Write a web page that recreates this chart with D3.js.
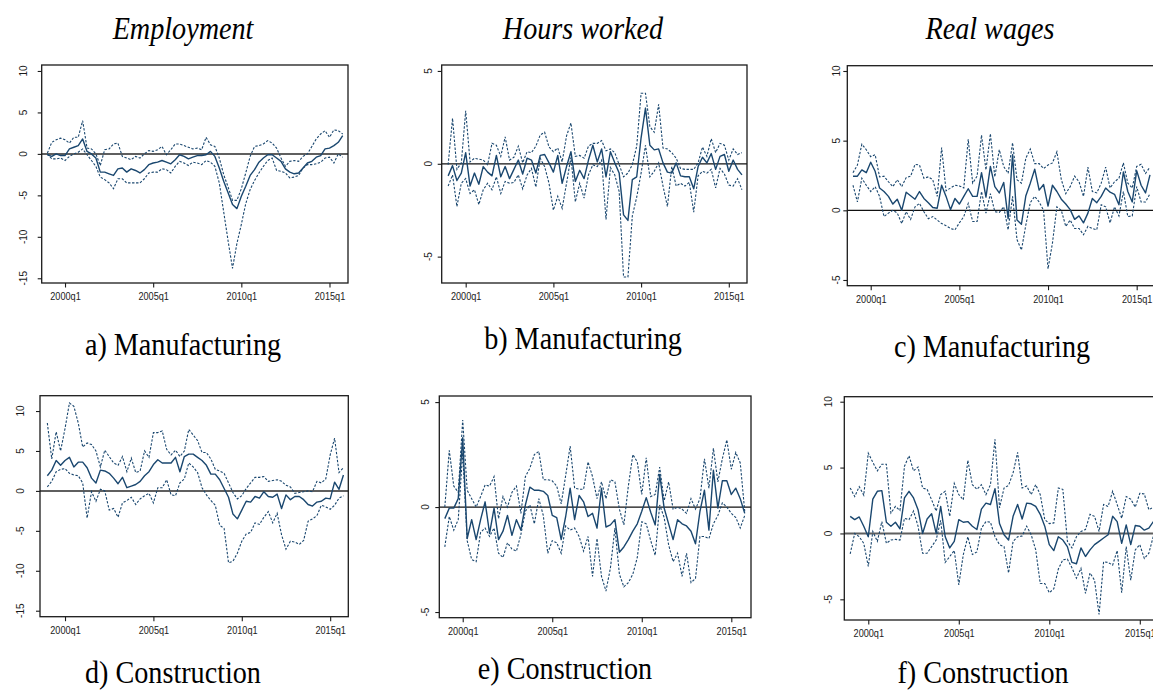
<!DOCTYPE html>
<html>
<head>
<meta charset="utf-8">
<script src="https://cdn.jsdelivr.net/npm/d3@7"></script>
<style>
  body { margin: 0; background: #fff; }
  svg { display: block; }
</style>
</head>
<body>
<svg id="fig" width="1153" height="693"></svg>
<script>
// ---- time axis -------------------------------------------------------
const startYear = 1999;
const nQuarters = 68;                       // 1999q1 .. 2015q4
const xTickLabels = ["2000q1", "2005q1", "2010q1", "2015q1"];

// ---- text ------------------------------------------------------------
const columnTitles = ["Employment", "Hours worked", "Real wages"];
const panelCaptions = ["a) Manufacturing", "b) Manufacturing", "c) Manufacturing",
                       "d) Construction", "e) Construction", "f) Construction"];

// ---- y tick values per panel ----------------------------------------
const yTicksA = [10, 5, 0, -5, -10, -15];
const yTicksB = [5, 0, -5];
const yTicksC = [10, 5, 0, -5];
const yTicksD = [10, 5, 0, -5, -10, -15];
const yTicksE = [5, 0, -5];
const yTicksF = [10, 5, 0, -5];

// ---- series: point estimate and lower / upper bands (percent) --------
// a) Employment, manufacturing
const mfgEmp = [-0.1,-0.3,0.0,-0.2,-0.2,0.6,0.8,1.0,1.8,0.3,
  0.0,-0.5,-2.2,-2.2,-2.4,-2.6,-1.8,-1.7,-2.2,-1.8,
  -2.0,-2.3,-1.9,-1.3,-1.1,-1.0,-0.8,-1.0,-1.2,-0.7,
  -0.1,-0.3,-0.6,-0.4,-0.2,-0.2,-0.1,0.3,-0.3,-1.7,
  -3.3,-4.7,-6.1,-6.6,-5.1,-3.9,-2.6,-1.9,-1.0,-0.5,
  -0.1,-0.1,-0.5,-0.9,-1.8,-2.2,-2.4,-2.3,-1.7,-1.1,
  -0.9,-0.4,-0.2,0.6,0.7,1.0,1.4,2.2];
const mfgEmpHi = [0.1,1.4,1.7,1.9,1.7,1.3,2.0,2.0,4.0,0.7,
  0.6,0.0,-1.4,0.5,0.6,1.2,1.3,-0.3,-0.5,-0.7,
  -0.3,-0.5,0.0,0.4,0.3,0.5,0.9,-0.1,0.5,1.2,
  1.2,1.0,0.8,0.6,0.7,0.5,2.0,1.1,0.9,-0.5,
  -2.5,-4.0,-5.6,-5.6,-4.2,-2.3,-0.3,0.9,1.0,1.2,
  1.6,1.3,0.7,-0.5,-1.5,-0.9,-0.8,-0.9,-0.3,0.0,
  0.9,1.8,2.4,2.8,2.0,2.9,2.8,2.4];
const mfgEmpLo = [0.0,-0.6,-0.6,-0.5,-0.8,-0.3,0.0,0.2,0.6,-0.1,
  -0.8,-1.5,-2.8,-3.1,-3.5,-4.2,-3.0,-3.0,-3.5,-3.5,
  -3.5,-3.5,-3.0,-2.3,-2.2,-2.2,-1.8,-1.9,-2.3,-1.5,
  -0.9,-1.1,-1.4,-1.0,-1.1,-1.3,-0.8,-1.0,-1.5,-3.5,
  -7.0,-10.5,-13.8,-10.8,-8.5,-6.0,-4.3,-3.2,-2.3,-1.5,
  -0.8,-0.5,-2.0,-2.1,-2.3,-2.9,-2.8,-2.6,-1.7,-1.3,
  -1.3,-1.2,-1.0,-0.5,-0.4,-1.1,0.0,-0.4];

// b) Hours worked, manufacturing
const mfgHrs = [-0.65,-0.1,-0.9,-0.5,0.6,-1.2,-0.5,-1.1,-0.15,-0.45,
  -0.65,0.45,-0.7,-0.15,-0.8,-0.3,0.2,-0.55,0.3,0.2,
  -0.5,0.45,0.5,0.05,-0.45,0.45,-1.05,-0.15,0.65,-0.95,
  -0.35,-0.8,0.2,1.0,0.1,0.8,-0.7,0.65,0.05,-0.5,
  -2.75,-3.05,-0.85,-0.7,1.4,3.0,1.0,0.75,0.8,0.05,
  -0.45,-0.5,0.05,-0.65,-0.7,-0.7,-1.35,-0.15,0.35,0.05,
  0.55,-0.3,0.4,0.5,-0.4,0.2,-0.3,-0.6];
const mfgHrsHi = [-0.05,2.45,-0.3,0.05,2.85,0.1,0.3,0.25,0.2,-0.05,
  1.1,1.0,0.4,1.45,0.2,0.35,0.95,0.05,0.65,0.6,
  0.95,1.55,1.7,0.9,0.65,0.85,0.1,1.5,2.2,0.4,
  0.45,0.3,0.95,1.1,1.1,1.25,0.7,0.8,0.6,-0.05,
  -0.7,-0.5,-0.05,0.95,3.8,3.8,2.0,1.7,3.2,0.85,
  0.8,0.6,0.3,-0.25,-0.3,-0.3,-0.3,0.05,0.9,0.4,
  1.35,0.6,1.1,1.0,0.2,0.8,0.5,0.6];
const mfgHrsLo = [-1.2,-0.6,-2.3,-1.05,-0.8,-1.6,-1.4,-2.2,-1.4,-1.05,
  -1.4,-0.7,-1.6,-0.95,-1.05,-1.0,-0.6,-1.35,-0.6,-0.25,
  -1.25,0.3,-0.15,-1.05,-2.5,-1.75,-2.4,-1.05,0.35,-2.05,
  -1.05,-1.85,-0.6,-0.05,-0.15,0.2,-3.0,-0.2,-0.6,-1.5,
  -6.1,-6.1,-2.8,-1.8,-0.5,1.0,-0.7,-0.4,0.05,-1.2,
  -2.3,-0.15,-1.2,-1.05,-1.2,-1.0,-2.6,-0.65,-0.4,-0.5,
  -0.3,-1.3,-0.25,-0.55,-1.15,-1.2,-0.8,-1.4];

// c) Real wages, manufacturing
const mfgWage = [2.45,2.45,2.9,2.7,3.45,2.8,1.6,1.35,1.0,0.45,
  0.8,0.0,1.3,1.05,0.8,1.35,0.85,0.55,0.2,0.15,
  1.8,1.0,0.05,0.85,0.45,1.0,1.55,1.0,1.0,2.7,
  0.95,3.15,1.7,1.25,2.0,-0.6,4.0,-0.7,-1.0,1.05,
  1.95,2.95,1.45,1.85,0.3,1.8,1.35,0.8,0.45,0.05,
  -0.65,-0.4,-0.9,-0.2,0.85,0.55,1.0,1.6,1.3,1.15,
  0.4,2.75,1.35,0.6,2.85,1.8,1.25,2.55];
const mfgWageHi = [2.7,3.25,4.75,4.35,3.85,4.0,2.4,2.45,2.05,1.7,
  2.2,1.7,2.35,2.45,3.3,3.25,2.3,2.4,2.2,1.0,
  4.5,1.4,1.6,1.8,1.75,1.6,5.1,1.95,2.45,5.4,
  2.9,5.5,2.4,4.35,3.15,2.65,4.85,2.2,1.95,3.75,
  4.4,3.35,3.35,3.0,3.25,3.4,4.2,2.2,1.2,1.7,
  2.45,2.05,1.0,3.1,1.35,1.25,1.95,3.1,1.6,2.05,
  2.3,3.4,1.95,1.6,3.15,3.3,2.65,3.1];
const mfgWageLo = [1.8,0.6,2.3,1.8,1.35,1.7,1.0,-0.45,-0.2,0.0,
  -0.2,-0.95,-0.1,-0.65,0.25,0.5,-0.1,-0.6,-0.45,-0.7,
  -0.95,-1.1,-1.3,-1.4,-0.9,-0.45,0.5,-0.8,-0.8,1.35,
  -0.2,1.2,-0.1,-0.15,0.25,-1.4,1.0,-2.1,-2.85,-1.05,
  0.55,1.0,0.6,0.0,-4.2,-2.35,0.25,0.0,-1.15,-0.7,
  -1.3,-1.3,-1.75,-1.15,-1.3,-1.4,0.4,0.25,-0.9,0.25,
  -0.4,1.35,-0.45,-0.4,1.7,0.6,0.6,1.2];

// d) Employment, construction
const conEmp = [1.9,2.6,3.8,3.2,3.8,4.2,3.0,3.6,3.6,2.9,
  1.6,1.0,2.6,2.5,2.2,1.6,0.9,1.7,0.4,0.6,
  0.8,1.2,1.9,2.4,3.3,3.9,3.5,3.5,3.5,4.2,
  2.4,4.3,4.6,4.6,4.2,3.8,3.2,2.1,2.1,1.4,
  0.3,-0.8,-2.9,-3.5,-2.4,-1.3,-1.4,-0.7,-0.9,-0.1,
  -0.7,-0.8,-0.4,-2.2,-0.5,-1.1,-0.7,-0.7,-1.1,-1.7,
  -1.9,-1.4,-1.3,-0.9,-1.0,1.1,0.2,2.0];
const conEmpHi = [8.5,4.0,7.4,5.0,7.8,11.0,10.6,8.5,5.5,6.0,
  5.8,5.0,3.0,5.1,4.3,3.5,3.2,4.3,2.4,4.1,
  2.3,2.5,5.0,4.2,7.3,7.3,7.5,5.2,4.5,5.1,
  4.3,5.0,7.7,7.0,6.3,4.8,4.8,4.0,2.7,2.5,
  2.2,1.0,-0.2,-1.0,-0.6,0.3,1.0,1.7,1.7,1.8,
  1.2,1.3,1.4,1.2,0.7,0.5,-0.3,-0.2,-0.1,0.0,
  -0.1,1.2,1.0,1.5,4.5,6.6,2.3,2.9];
const conEmpLo = [0.5,1.2,2.4,2.7,2.8,2.2,2.0,1.9,1.0,-3.4,
  -0.1,-1.3,0.2,0.0,-2.4,-2.2,-3.3,-1.5,-1.2,-0.8,
  -1.7,-1.0,-0.6,-0.3,-1.5,0.4,0.4,1.4,-0.5,-0.6,
  1.0,1.5,3.5,3.0,2.3,0.4,-0.5,-1.2,-1.8,-4.3,
  -4.7,-9.0,-8.8,-7.8,-6.3,-5.4,-5.2,-4.0,-4.2,-3.3,
  -2.6,-4.0,-2.8,-5.5,-7.3,-6.3,-6.4,-6.7,-6.2,-3.8,
  -3.5,-3.1,-1.8,-2.0,-2.3,-1.8,-0.9,-0.6];

// e) Hours worked, construction
const conHrs = [-0.55,-0.05,-0.05,0.4,3.3,-1.5,-0.6,-1.55,-0.6,0.25,
  -1.25,-0.05,-1.55,-1.15,-0.4,-1.35,-0.6,-1.1,0.1,0.95,
  0.8,0.8,0.75,0.55,-0.4,-0.5,-1.55,-0.45,0.9,-0.6,
  0.55,0.25,-0.45,-0.3,-1.0,0.9,-0.95,-0.85,-0.6,-2.15,
  -1.9,-1.55,-1.15,-0.8,-0.2,0.45,-0.25,-0.85,1.55,-0.05,
  -0.8,-1.55,-0.6,-0.8,-0.9,-1.15,-1.75,-0.2,0.8,-1.1,
  1.75,-0.05,1.25,1.25,0.6,0.9,0.4,-0.3];
const conHrsHi = [0.0,2.7,1.0,0.7,4.15,0.8,0.4,0.0,0.5,1.05,
  1.0,1.45,-0.55,0.5,0.0,0.7,1.0,-0.3,1.45,1.85,
  2.5,2.65,1.3,1.3,1.25,1.0,0.15,1.5,2.9,0.9,
  0.85,0.85,2.15,1.45,0.4,1.2,0.4,1.3,1.2,-0.1,
  -0.85,1.0,2.5,2.15,0.6,2.35,0.5,0.6,1.9,0.3,
  1.2,-0.1,0.0,-0.1,-0.3,0.4,-0.1,0.4,2.3,0.9,
  2.8,1.2,2.3,3.2,1.8,2.6,2.1,-0.2];
const conHrsLo = [-1.9,-0.45,-1.1,-0.6,2.6,-1.6,-2.5,-2.6,-1.2,-1.0,
  -1.4,-1.0,-2.2,-2.4,-1.7,-2.0,-2.1,-1.3,-0.2,0.1,
  -0.8,0.4,-0.4,-2.2,-1.6,-1.7,-2.2,-0.9,-1.1,-1.0,
  -1.4,-2.1,-1.4,-3.3,-1.5,-3.3,-4.0,-2.9,-1.0,-3.2,
  -3.8,-3.6,-3.2,-2.4,-0.7,-0.8,-1.6,-2.3,0.1,-0.5,
  -1.8,-2.6,-2.2,-3.3,-2.2,-3.6,-3.4,-1.4,-1.4,-1.5,
  -0.8,-0.4,0.2,0.0,-0.3,-0.5,-1.0,-0.4];

// f) Real wages, construction
const conWage = [1.3,1.05,1.25,0.55,-0.25,2.6,3.2,3.25,0.85,0.55,
  0.85,0.35,2.7,3.2,2.7,1.8,0.0,1.1,1.5,0.0,
  2.05,-0.25,-1.1,-0.6,1.05,0.85,0.9,0.55,0.3,1.85,
  2.3,2.2,3.4,0.75,-0.1,-0.5,1.3,2.2,1.1,2.3,
  2.25,2.05,1.45,0.55,-0.85,-1.3,-0.25,-0.5,-1.0,-2.2,
  -2.3,-1.1,-1.75,-1.25,-0.85,-0.6,-0.35,-0.1,1.3,0.9,
  -0.75,0.65,-0.85,0.6,0.55,0.25,0.4,0.9];
const conWageHi = [3.45,2.8,3.55,2.9,6.1,5.4,4.75,5.25,5.25,1.55,
  2.05,1.75,5.1,5.9,4.75,5.05,3.45,3.35,2.55,1.7,
  2.95,3.2,1.3,3.8,2.95,2.55,5.55,3.7,3.35,3.7,
  2.95,3.7,7.15,1.95,3.45,3.65,4.6,6.15,3.45,3.6,
  2.95,3.7,2.95,1.05,0.75,0.8,3.45,3.35,-0.6,-1.1,
  -0.25,0.15,0.3,1.45,1.3,0.15,2.2,2.05,3.2,2.2,
  1.15,2.8,2.6,2.0,3.05,3.0,1.8,2.0];
const conWageLo = [-1.55,0.0,-0.25,-0.75,-2.5,0.15,-0.6,0.9,-0.75,-0.5,
  -0.45,-0.5,1.15,1.05,1.7,0.55,-1.5,-1.5,-1.0,-0.5,
  1.0,-2.2,-1.75,-1.3,-3.9,-1.6,-0.25,-1.6,-1.4,0.4,
  0.9,0.85,-0.25,-0.85,-1.0,-3.0,-0.6,-0.25,-0.2,0.55,
  -0.1,-1.25,-3.8,-3.8,-4.5,-4.2,-2.7,-2.0,-1.95,-2.6,
  -3.4,-2.65,-4.55,-3.0,-3.55,-6.15,-2.15,-2.2,-2.4,-1.3,
  -4.5,-1.0,-3.55,-1.25,-0.85,-1.9,-1.5,-0.2];

// ---- quarter labels --------------------------------------------------
const quarters = d3.range(nQuarters).map(i =>
  `${startYear + Math.floor(i / 4)}q${(i % 4) + 1}`);

// ---- panel geometry and styles ---------------------------------------
const navy = "#1a476f";
const sansFont = "'Liberation Sans', Arial, sans-serif";
const serifFont = "'Liberation Serif', 'Times New Roman', serif";
const panels = [
  { mid: mfgEmp,  lo: mfgEmpLo,  hi: mfgEmpHi,  ticks: yTicksA,
    box: [41.7, 348, 65, 283],    xd: [-1.29, 68.2], yd: [-15.57, 10.72], lab: 18.7, zero: "gray" },
  { mid: mfgHrs,  lo: mfgHrsLo,  hi: mfgHrsHi,  ticks: yTicksB,
    box: [441.7, 747, 65, 283],   xd: [-1.47, 68.15], yd: [-6.42, 5.32], lab: 13.7, zero: "black" },
  { mid: mfgWage, lo: mfgWageLo, hi: mfgWageHi, ticks: yTicksC,
    box: [847.3, 1155.3, 65.7, 285.7], xd: [-1.28, 68.2], yd: [-5.41, 10.38], lab: 10.6, zero: "black" },
  { mid: conEmp,  lo: conEmpLo,  hi: conEmpHi,  ticks: yTicksD,
    box: [40, 348.3, 395.7, 616.7], xd: [-1.66, 68.1], yd: [-15.75, 11.92], lab: 20, zero: "gray" },
  { mid: conHrs,  lo: conHrsLo,  hi: conHrsHi,  ticks: yTicksE,
    box: [439.3, 751, 396, 617.7], xd: [-1.23, 68.4], yd: [-5.27, 5.29], lab: 14.3, zero: "black" },
  { mid: conWage, lo: conWageLo, hi: conWageHi, ticks: yTicksF,
    box: [844.3, 1158.8, 396.7, 620], xd: [-1.3, 68.2], yd: [-6.57, 10.38], lab: 16, zero: "gray" }
];

const svg = d3.select("#fig");
const tickIdx = xTickLabels.map(l => quarters.indexOf(l));

panels.forEach((p, k) => {
  const [x0, x1, y0, y1] = p.box;
  const x = d3.scaleLinear().domain(p.xd).range([x0, x1]);
  const y = d3.scaleLinear().domain(p.yd).range([y1, y0]);
  const g = svg.append("g");

  // zero reference line
  g.append("line")
    .attr("x1", x0).attr("x2", x1).attr("y1", y(0)).attr("y2", y(0))
    .attr("stroke", p.zero === "gray" ? "#5f5f5f" : "#111")
    .attr("stroke-width", p.zero === "gray" ? 2 : 1.3);

  const line = d3.line().x((d, i) => x(i)).y(d => y(d));

  // confidence bands
  [p.lo, p.hi].forEach(s => {
    g.append("path").datum(s)
      .attr("d", line)
      .attr("fill", "none")
      .attr("stroke", navy)
      .attr("stroke-width", 1.1)
      .attr("stroke-dasharray", "2.4,1.6");
  });
  // point estimate
  g.append("path").datum(p.mid)
    .attr("d", line)
    .attr("fill", "none")
    .attr("stroke", navy)
    .attr("stroke-width", 1.4)
    .attr("stroke-linejoin", "round");

  // frame
  g.append("rect")
    .attr("x", x0).attr("y", y0)
    .attr("width", x1 - x0).attr("height", y1 - y0)
    .attr("fill", "none").attr("stroke", "#1b1b1b").attr("stroke-width", 1.3);

  // x axis
  const xAxis = d3.axisBottom(x)
    .tickValues(tickIdx)
    .tickFormat(i => quarters[i])
    .tickSize(4.5).tickPadding(5);
  const gx = g.append("g").attr("transform", `translate(0,${y1})`).call(xAxis);
  gx.select(".domain").remove();
  gx.selectAll("line").attr("stroke", "#1b1b1b").attr("stroke-width", 1.1);
  gx.selectAll("text")
    .attr("font-family", sansFont)
    .attr("font-size", 10.4).attr("fill", "#1b1b1b")
    .attr("transform", "scale(0.88,1)");

  // y axis with vertical labels
  const yAxis = d3.axisLeft(y).tickValues(p.ticks).tickSize(4).tickFormat("");
  const gy = g.append("g").attr("transform", `translate(${x0},0)`).call(yAxis);
  gy.select(".domain").remove();
  gy.selectAll("line").attr("stroke", "#1b1b1b").attr("stroke-width", 1.1);
  g.selectAll(".ylab").data(p.ticks).enter().append("text")
    .attr("class", "ylab")
    .attr("transform", d => `translate(${x0 - p.lab},${y(d)}) rotate(-90)`)
    .attr("text-anchor", "middle")
    .attr("dy", "0.36em")
    .attr("font-family", sansFont)
    .attr("font-size", 10).attr("fill", "#1b1b1b")
    .text(d => d);
});

// column headings (set in a narrow serif face)
const titleX = [183, 583, 990];
svg.selectAll(".coltitle").data(columnTitles).enter().append("text")
  .attr("class", "coltitle")
  .attr("transform", (d, i) => `translate(${titleX[i]},39) scale(0.88,1)`)
  .attr("text-anchor", "middle")
  .attr("font-family", serifFont)
  .attr("font-style", "italic")
  .attr("font-size", 32)
  .text(d => d);

// panel captions
const capX = [183, 583, 992, 173, 565, 983];
const capY = [355, 349, 357, 683, 679, 683];
svg.selectAll(".caption").data(panelCaptions).enter().append("text")
  .attr("class", "caption")
  .attr("transform", (d, i) => `translate(${capX[i]},${capY[i]}) scale(0.88,1)`)
  .attr("text-anchor", "middle")
  .attr("font-family", serifFont)
  .attr("font-size", 32)
  .text(d => d);
</script>
</body>
</html>
